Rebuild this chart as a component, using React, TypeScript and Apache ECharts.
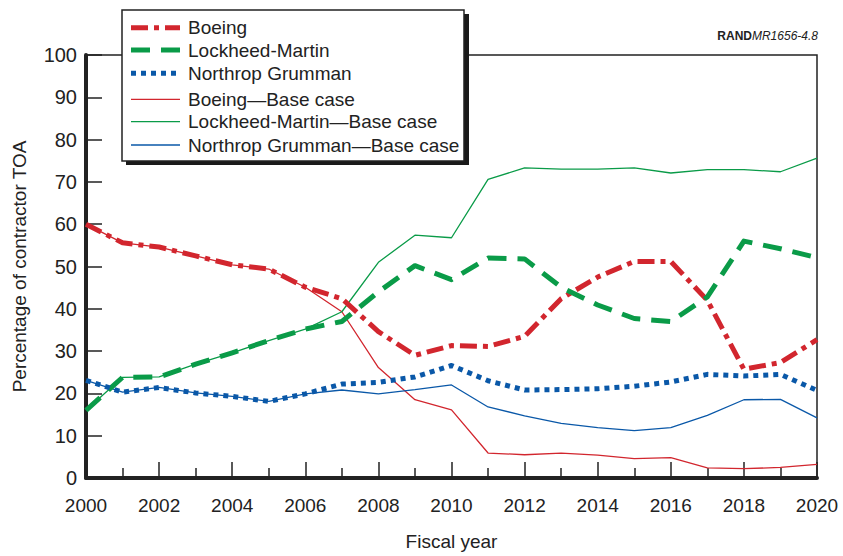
import React, { useEffect, useRef } from "react";
import * as echarts from "echarts";

const years = [2000, 2001, 2002, 2003, 2004, 2005, 2006, 2007, 2008, 2009, 2010, 2011, 2012, 2013, 2014, 2015, 2016, 2017, 2018, 2019, 2020];
const boeing = [60, 55.6, 54.6, 52.5, 50.4, 49.4, 45.1, 42.4, 34.6, 29.0, 31.3, 31.1, 33.5, 42.4, 47.5, 51.2, 51.2, 42.0, 25.7, 27.3, 32.7];
const lockheed = [16, 23.8, 23.9, 26.9, 29.6, 32.5, 35.2, 37.0, 44.0, 50.2, 46.9, 52.0, 51.8, 45.1, 40.9, 37.7, 37.0, 42.8, 56.0, 54.2, 52.1];
const northrop = [23.1, 20.3, 21.4, 20.1, 19.3, 18.1, 19.9, 22.2, 22.6, 23.9, 26.6, 23.0, 20.8, 20.9, 21.1, 21.7, 22.7, 24.5, 24.1, 24.5, 20.7];
const boeingBase = [60, 55.6, 54.6, 52.5, 50.4, 49.4, 45.1, 39.3, 26.1, 18.5, 16.1, 5.9, 5.5, 5.9, 5.4, 4.6, 4.8, 2.4, 2.2, 2.5, 3.2];
const lockheedBase = [16, 23.8, 23.9, 26.9, 29.6, 32.5, 35.2, 39.3, 51.0, 57.4, 56.8, 70.6, 73.3, 73.0, 73.0, 73.3, 72.1, 72.9, 72.9, 72.4, 75.6];
const northropBase = [23.1, 20.3, 21.4, 20.1, 19.3, 18.1, 19.9, 20.8, 19.9, 20.9, 22.0, 16.8, 14.7, 12.9, 11.9, 11.2, 11.9, 14.8, 18.5, 18.6, 14.2];

const legendNames = [
  "Boeing",
  "Lockheed-Martin",
  "Northrop Grumman",
  "Boeing\u2014Base case",
  "Lockheed-Martin\u2014Base case",
  "Northrop Grumman\u2014Base case",
];

const RED = "#d2262e";
const GREEN = "#0a9b48";
const BLUE = "#0a58a8";
const INK = "#222222";
const FONT = "Liberation Sans, Arial, Helvetica, sans-serif";

const DASH_B = [17, 6, 5, 6];
const DASH_L = [19, 11];
const DASH_N = [5, 5];

const pair = (vals: number[]) => years.map((y, i) => [y, vals[i]]);

export default function App() {
  const ref = useRef<HTMLDivElement>(null);
  useEffect(() => {
    if (!ref.current) return;
    const chart = echarts.init(ref.current, undefined, { renderer: "svg" });
    const thick = (name: string, data: number[], color: string, dash: number[]) => ({
      name,
      type: "line",
      data: pair(data),
      showSymbol: false,
      symbol: "none",
      z: 3,
      lineStyle: { color, width: 5, type: dash, cap: "butt", join: "round" },
      itemStyle: { color },
    });
    const thin = (name: string, data: number[], color: string) => ({
      name,
      type: "line",
      data: pair(data),
      showSymbol: false,
      symbol: "none",
      z: 2,
      lineStyle: { color, width: 1.3, type: "solid" },
      itemStyle: { color },
    });

    const legendRows = [
      { y: 27.7, color: RED, width: 5, dash: DASH_B },
      { y: 50, color: GREEN, width: 5, dash: DASH_L },
      { y: 73.3, color: BLUE, width: 5, dash: DASH_N },
      { y: 99.3, color: RED, width: 1.3, dash: null },
      { y: 121.7, color: GREEN, width: 1.3, dash: null },
      { y: 145, color: BLUE, width: 1.3, dash: null },
    ];
    const legendGraphics: any[] = [];
    legendRows.forEach((r, i) => {
      legendGraphics.push({
        type: "line",
        z: 12,
        shape: { x1: 131, y1: r.y, x2: 180, y2: r.y },
        style: { stroke: r.color, lineWidth: r.width, lineDash: r.dash || undefined, lineCap: "butt" },
      });
      legendGraphics.push({
        type: "text",
        z: 12,
        x: 188,
        y: r.y,
        style: {
          text: legendNames[i],
          fontSize: 19,
          fontFamily: FONT,
          fill: INK,
          verticalAlign: "middle",
          align: "left",
        },
      });
    });

    chart.setOption({
      animation: false,
      grid: {
        left: 86,
        right: 26,
        top: 55,
        bottom: 73,
        show: true,
        borderColor: INK,
        borderWidth: 1.5,
        backgroundColor: "transparent",
      },
      xAxis: {
        type: "value",
        min: 2000,
        max: 2020,
        interval: 2,
        name: "Fiscal year",
        nameLocation: "middle",
        nameGap: 54,
        nameTextStyle: { fontSize: 19, color: INK, fontFamily: FONT },
        axisLine: { show: true, onZero: false, lineStyle: { color: INK, width: 4 } },
        axisTick: { show: true, inside: true, length: 16, lineStyle: { color: INK, width: 1.5 } },
        minorTick: { show: true, splitNumber: 2, length: 10, lineStyle: { color: INK, width: 1.5 } },
        splitLine: { show: false },
        axisLabel: {
          fontSize: 19,
          color: INK,
          fontFamily: FONT,
          margin: 18,
          formatter: (v: number) => String(v),
        },
      },
      yAxis: {
        type: "value",
        min: 0,
        max: 100,
        interval: 10,
        name: "Percentage of contractor TOA",
        nameLocation: "middle",
        nameGap: 57,
        nameTextStyle: { fontSize: 19, color: INK, fontFamily: FONT },
        axisLine: { show: true, lineStyle: { color: INK, width: 4 } },
        axisTick: { show: true, inside: true, length: 16, lineStyle: { color: INK, width: 1.5 } },
        splitLine: { show: false },
        axisLabel: { fontSize: 20, color: INK, fontFamily: FONT, margin: 9 },
      },
      graphic: [
        {
          type: "rect",
          z: 10,
          shape: { x: 126, y: 14, width: 343, height: 151 },
          style: { fill: "#1a1a1a" },
        },
        {
          type: "rect",
          z: 11,
          shape: { x: 122, y: 10, width: 342, height: 151 },
          style: { fill: "#ffffff", stroke: INK, lineWidth: 1.5 },
        },
        ...legendGraphics,
        {
          type: "text",
          z: 11,
          right: 25,
          top: 30,
          style: {
            text: "{b|RAND}{i|MR1656-4.8}",
            rich: {
              b: { fontWeight: "bold", fontSize: 12, fill: INK, fontFamily: FONT },
              i: { fontStyle: "italic", fontSize: 12, fill: INK, fontFamily: FONT },
            },
          },
        },
      ],
      series: [
        thin(legendNames[3], boeingBase, RED),
        thin(legendNames[4], lockheedBase, GREEN),
        thin(legendNames[5], northropBase, BLUE),
        thick(legendNames[0], boeing, RED, DASH_B),
        thick(legendNames[1], lockheed, GREEN, DASH_L),
        thick(legendNames[2], northrop, BLUE, DASH_N),
      ],
    });
    return () => chart.dispose();
  }, []);
  return <div ref={ref} style={{ width: 843, height: 556, position: "absolute", left: 0, top: 0, background: "#fff" }} />;
}
